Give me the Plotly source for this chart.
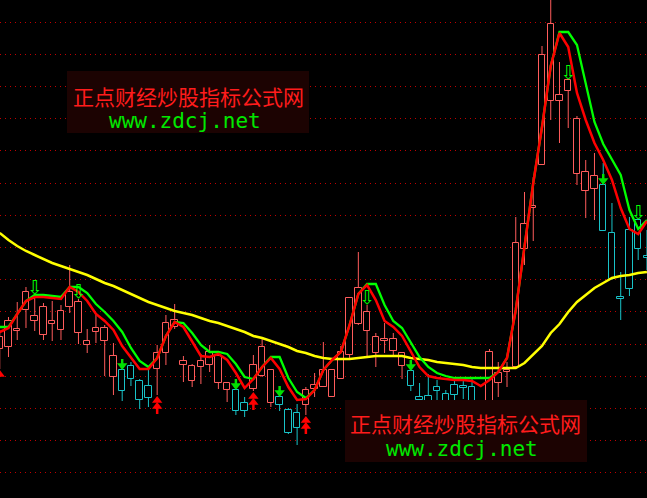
import plotly.graph_objects as go

# ---------------- data ----------------
idx = list(range(75))

open_ = [15.1, 15.3, 16.9, 19.0, 17.9, 16.5, 17.6, 17.0, 19.3, 16.7,
         15.5, 16.8, 15.9, 12.3, 13.0, 13.4, 11.9, 11.4, 13.1, 14.7,
         17.3, 13.5, 11.9, 13.3, 13.5, 11.7, 11.0, 11.0, 9.7, 11.1,
         12.4, 9.7, 10.3, 9.0, 8.7, 9.5, 11.1, 11.3, 10.3, 12.1,
         14.5, 17.6, 16.9, 14.7, 15.9, 14.9, 13.4, 12.9, 10.3, 10.4,
         11.3, 10.6, 11.5, 11.4, 11.3, 9.6, 9.7, 11.7, 12.8, 13.3,
         25.1, 29.2, 33.5, 39.9, 39.9, 40.9, 32.6, 30.9, 31.1, 31.5,
         26.7, 20.3, 27.0, 28.0, 24.4]
high = [17.0, 18.3, 19.8, 21.3, 20.5, 19.7, 19.9, 19.5, 23.5, 20.1,
        17.1, 18.5, 17.5, 15.7, 13.2, 13.8, 12.1, 13.1, 15.5, 18.5,
        19.6, 14.4, 13.6, 14.6, 15.5, 14.5, 11.7, 11.1, 10.3, 14.5,
        16.2, 13.0, 10.3, 9.2, 9.6, 11.3, 12.7, 15.8, 13.0, 15.4,
        20.3, 24.8, 19.5, 16.7, 17.7, 16.7, 14.7, 13.3, 11.7, 12.6,
        12.0, 11.0, 12.3, 12.3, 12.3, 10.0, 15.1, 13.8, 13.8, 28.3,
        30.8, 32.3, 45.4, 50.3, 43.8, 42.0, 38.4, 34.0, 34.7, 33.7,
        29.7, 22.8, 28.3, 28.0, 27.0]
low = [13.1, 14.3, 16.0, 17.2, 16.9, 16.0, 15.9, 16.0, 18.7, 15.6,
       14.7, 15.7, 12.4, 10.5, 9.9, 11.4, 9.1, 9.3, 10.5, 13.5,
       17.1, 11.8, 11.3, 11.6, 12.8, 11.1, 9.8, 8.5, 8.3, 10.9,
       12.3, 9.3, 8.9, 6.6, 5.5, 8.5, 10.3, 11.3, 10.3, 12.1,
       14.0, 17.5, 14.2, 13.3, 14.7, 14.5, 12.1, 10.9, 9.5, 8.2,
       9.7, 8.5, 9.8, 10.1, 9.2, 8.0, 9.5, 10.3, 11.3, 13.3,
       23.5, 25.9, 33.5, 38.0, 35.7, 37.2, 31.5, 28.2, 28.0, 26.9,
       22.0, 18.0, 20.4, 24.0, 23.0]
close = [16.3, 17.9, 17.1, 20.8, 18.4, 19.3, 17.9, 18.9, 20.8, 19.8,
         15.9, 17.2, 17.2, 14.4, 10.9, 12.1, 10.0, 10.2, 14.7, 17.7,
         18.0, 13.9, 13.4, 13.9, 14.8, 14.4, 11.7, 8.9, 8.9, 13.5,
         15.3, 13.0, 9.5, 6.7, 7.2, 11.0, 11.5, 13.0, 13.0, 14.8,
         20.2, 21.2, 18.8, 16.3, 16.1, 16.1, 14.7, 11.4, 10.0, 8.8,
         10.9, 9.0, 10.5, 11.2, 9.6, 8.5, 14.8, 12.7, 13.0, 25.7,
         27.6, 29.4, 44.5, 47.6, 40.5, 42.0, 38.1, 32.8, 32.4, 26.9,
         22.1, 20.1, 21.1, 25.1, 24.2]

fast_line = [16.8, 17.2, 18.6, 19.9, 20.3, 20.3, 20.2, 20.1, 21.3, 20.8,
             19.9, 18.6, 17.9, 17.0, 15.4, 14.3, 13.1, 13.1, 14.2, 16.4,
             17.8, 17.3, 15.8, 14.4, 14.3, 14.6, 14.0, 12.7, 11.2, 12.1,
             13.3, 14.2, 13.1, 11.3, 10.0, 10.1, 11.0, 13.0, 14.0, 14.8,
             17.5, 20.6, 21.5, 20.0, 17.9, 17.3, 16.4, 14.8, 13.3, 12.4,
             12.2, 12.1, 12.0, 12.0, 11.9, 11.4, 12.0, 12.8, 14.2, 19.0,
             25.2, 31.7, 37.3, 43.4, 46.7, 45.3, 40.7, 38.0, 35.7, 34.0,
             32.0, 29.2, 27.1, 26.6, 27.9]
slow_line = [17.3, 17.3, 18.6, 19.9, 20.5, 20.5, 20.4, 20.3, 21.3, 21.3,
             20.7, 19.6, 18.8, 17.9, 16.8, 15.2, 13.9, 13.3, 14.2, 16.4,
             17.8, 17.7, 16.7, 15.5, 14.8, 14.8, 14.6, 13.6, 12.3, 12.1,
             13.3, 14.3, 14.3, 12.2, 10.8, 10.2, 11.0, 13.0, 14.0, 14.8,
             17.5, 20.6, 21.6, 21.6, 19.5, 17.9, 17.2, 15.8, 14.3, 13.3,
             12.7, 12.4, 12.2, 12.2, 12.2, 12.2, 12.2, 12.8, 14.2, 19.0,
             25.2, 31.7, 37.3, 43.4, 46.8, 46.8, 45.5, 41.6, 37.8, 35.6,
             34.0, 32.5, 29.0, 27.1, 28.0]
long_ma = [26.7, 26.0, 25.4, 24.9, 24.5, 24.1, 23.7, 23.4, 23.1, 22.8,
           22.5, 22.1, 21.7, 21.4, 21.0, 20.6, 20.2, 19.8, 19.5, 19.2,
           18.9, 18.7, 18.5, 18.2, 17.9, 17.7, 17.4, 17.1, 16.8, 16.4,
           16.2, 15.9, 15.6, 15.3, 14.9, 14.7, 14.4, 14.2, 14.1, 14.1,
           14.1, 14.2, 14.3, 14.4, 14.4, 14.4, 14.4, 14.2, 14.1, 14.0,
           13.8, 13.7, 13.6, 13.5, 13.3, 13.2, 13.2, 13.2, 13.2, 13.2,
           13.7, 14.5, 15.4, 16.7, 17.6, 18.8, 19.8, 20.5, 21.2, 21.7,
           22.2, 22.4, 22.5, 22.7, 22.8]

buy_double_idx = [18, 29, 35]         # red double up arrows
buy_single_idx = [0]                  # red single up arrow (left edge)
sell_hollow_idx = [4, 9, 42, 65, 73]  # green hollow down arrows
sell_solid_idx = [14, 27, 32, 47, 69] # green filled down arrows

watermark_cn = "正点财经炒股指标公式网"
watermark_url = "www.zdcj.net"

# ---------------- styles ----------------
UP = "#ff5c5c"
DN = "#19c3c8"
BG = "black"

fig = go.Figure()

def wick_xy(ids):
    xs, ys = [], []
    for i in ids:
        top = max(open_[i], close[i])
        bot = min(open_[i], close[i])
        xs += [i, i, None, i, i, None]
        ys += [high[i], top, None, bot, low[i], None]
    return xs, ys

up_ids = [i for i in idx if close[i] >= open_[i]]
dn_ids = [i for i in idx if close[i] < open_[i]]

for ids, col in ((up_ids, UP), (dn_ids, DN)):
    xs, ys = wick_xy(ids)
    fig.add_trace(go.Scatter(x=xs, y=ys, mode="lines",
                             line=dict(color=col, width=1), hoverinfo="skip"))
    fig.add_trace(go.Bar(
        x=ids,
        base=[min(open_[i], close[i]) for i in ids],
        y=[abs(close[i] - open_[i]) for i in ids],
        width=0.74,
        marker=dict(color=BG, line=dict(color=col, width=1)),
        hoverinfo="skip"))

# moving lines
fig.add_trace(go.Scatter(x=idx, y=long_ma, mode="lines",
                         line=dict(color="#ffff00", width=2.5), hoverinfo="skip"))
fig.add_trace(go.Scatter(x=idx, y=slow_line, mode="lines",
                         line=dict(color="#00ff00", width=2.3), hoverinfo="skip"))
fig.add_trace(go.Scatter(x=idx, y=fast_line, mode="lines",
                         line=dict(color="#ff0000", width=2.5), hoverinfo="skip"))

# buy signals: red up arrows below the low
sx, sy = [], []
for i in buy_double_idx:
    sx += [i, i, None]
    sy += [low[i] - 1.1, low[i] - 1.9, None]
fig.add_trace(go.Scatter(x=sx, y=sy, mode="lines",
                         line=dict(color="#ff0000", width=2.5), hoverinfo="skip"))
fig.add_trace(go.Scatter(
    x=buy_double_idx + buy_double_idx + buy_single_idx,
    y=[low[i] - 0.55 for i in buy_double_idx] + [low[i] - 1.15 for i in buy_double_idx]
      + [low[i] - 0.55 for i in buy_single_idx],
    mode="markers", marker=dict(symbol="triangle-up", size=9, color="#ff0000"),
    hoverinfo="skip"))

# filled green sell arrows above the open
gx, gy = [], []
for i in sell_solid_idx:
    gx += [i, i, None]
    gy += [open_[i] + 0.5, open_[i] + 1.1, None]
fig.add_trace(go.Scatter(x=gx, y=gy, mode="lines",
                         line=dict(color="#00e000", width=2.5), hoverinfo="skip"))
fig.add_trace(go.Scatter(
    x=sell_solid_idx, y=[open_[i] + 0.45 for i in sell_solid_idx],
    mode="markers", marker=dict(symbol="triangle-down", size=9, color="#00e000"),
    hoverinfo="skip"))

# hollow green sell arrows above the high
fig.add_trace(go.Scatter(
    x=sell_hollow_idx, y=[high[i] + 0.55 for i in sell_hollow_idx],
    mode="text", text=["⇩"] * len(sell_hollow_idx),
    textposition="middle center",
    textfont=dict(family="DejaVu Sans", size=19, color="#00ff00"),
    hoverinfo="skip"))

# ---------------- watermarks ----------------
W, H = 647, 498
def px(x):
    return x / W
def py(y):
    return 1 - y / H

boxes = [(67, 71, 309, 133, 188, 96, 185, 121),
         (345, 400, 587, 462, 465, 423, 462, 449)]
for (x0, y0, x1, y1, tx, ty, ux, uy) in boxes:
    fig.add_shape(type="rect", xref="paper", yref="paper",
                  x0=px(x0), x1=px(x1), y0=py(y1), y1=py(y0),
                  fillcolor="#1c0302", line=dict(width=0), layer="above")
    fig.add_annotation(xref="paper", yref="paper", x=px(tx), y=py(ty),
                       text=watermark_cn, showarrow=False,
                       xanchor="center", yanchor="middle",
                       font=dict(family="Noto Sans CJK SC", size=21, color="#ff1c1c"))
    fig.add_annotation(xref="paper", yref="paper", x=px(ux), y=py(uy),
                       text=watermark_url, showarrow=False,
                       xanchor="center", yanchor="middle",
                       font=dict(family="DejaVu Sans Mono", size=21, color="#00e800"))

fig.update_layout(
    width=W, height=H,
    margin=dict(l=0, r=0, t=0, b=0),
    paper_bgcolor=BG, plot_bgcolor=BG,
    showlegend=False, barmode="overlay", bargap=0,
    xaxis=dict(range=[0.029, 74.006], showgrid=False, zeroline=False,
               showticklabels=False, ticks="", showline=False, fixedrange=True),
    yaxis=dict(range=[0.2, 50.0], showgrid=True, gridcolor="#c00000",
               griddash="1px,4px", gridwidth=1, tick0=47.8, dtick=3.22,
               zeroline=False, showticklabels=False, ticks="", showline=False,
               fixedrange=True),
)

fig.write_html("out.html", config={"displayModeBar": False},
               post_script="document.body.style.margin='0px';")
